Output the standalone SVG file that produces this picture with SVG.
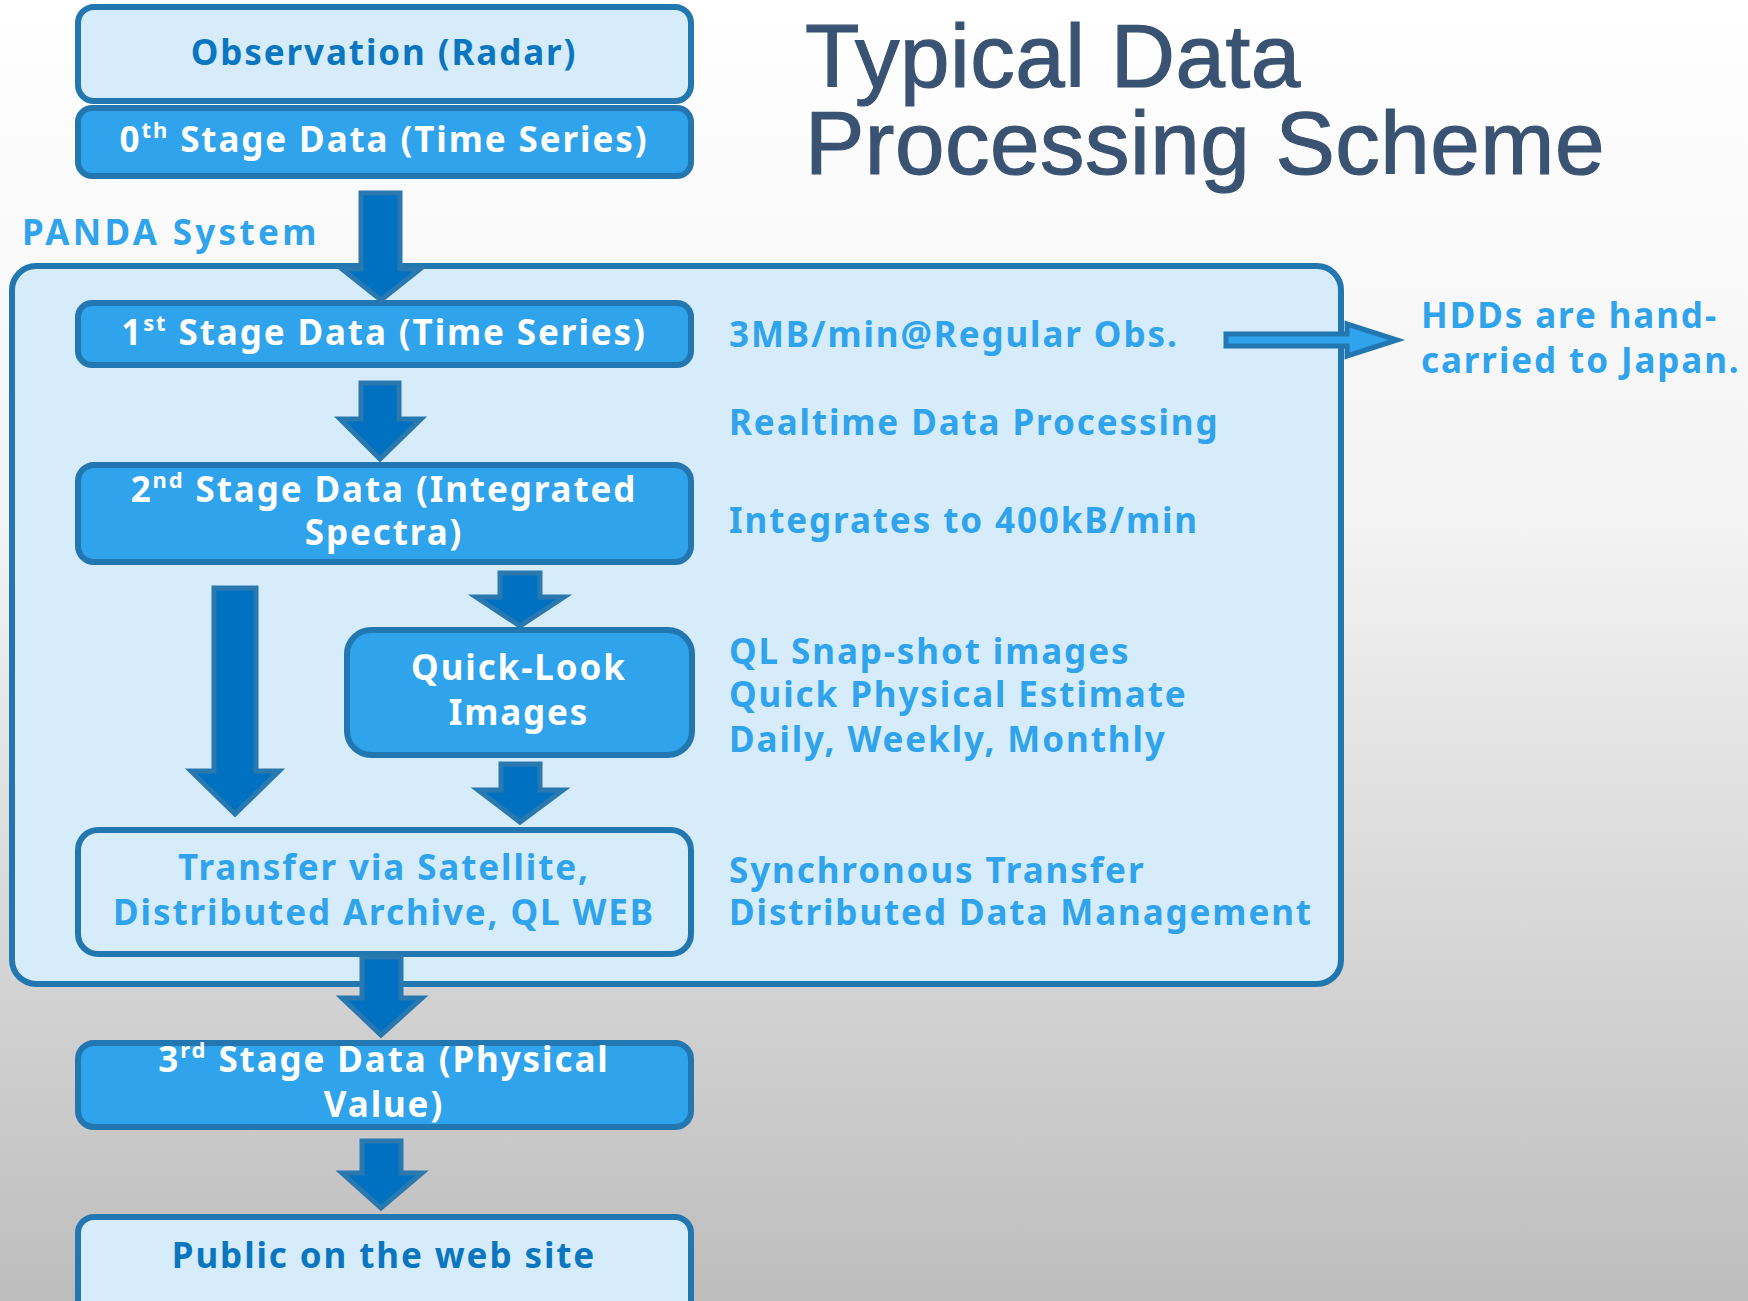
<svg xmlns="http://www.w3.org/2000/svg" width="1748" height="1301" viewBox="0 0 1748 1301">
<defs>
<linearGradient id="bg" x1="0" y1="0" x2="0" y2="1">
<stop offset="0" stop-color="#ffffff"/>
<stop offset="0.4" stop-color="#f3f3f3"/>
<stop offset="1" stop-color="#bdbdbd"/>
</linearGradient>
</defs>
<style>
.t{font-family:"Noto Sans","DejaVu Sans",sans-serif;font-weight:700;font-size:35px;letter-spacing:1.9px}
.c{text-anchor:middle}
.dark{fill:#2fa3eb;stroke:#2277b0;stroke-width:6}
.light{fill:#d6ecfb;stroke:#2277b0;stroke-width:6}
.w{fill:#ffffff}
.db{fill:#0b76c0}
.lb{fill:#2fa3eb}
.arr{fill:#0070c0;stroke:#2a78b0;stroke-width:5;stroke-linejoin:miter}
.title{font-family:"Liberation Sans",Arial,sans-serif;font-size:89px;fill:#3a5373;stroke:#3a5373;stroke-width:1.2;letter-spacing:0.5px}
</style>
<rect width="1748" height="1301" fill="url(#bg)"/>
<g id="title">
<text class="title" x="805" y="87">Typical Data</text>
<text class="title" x="805" y="174">Processing Scheme</text>
</g>
<g id="panda">
<rect x="12" y="266" width="1329" height="718" rx="24" fill="#d6ecfb" stroke="#2277b0" stroke-width="6"/>
<text class="t lb" x="22" y="245" style="letter-spacing:3.3px">PANDA System</text>
</g>
<g id="observation">
<rect class="light" x="78" y="7" width="613" height="94" rx="16"/>
<text class="t c db" x="384" y="65">Observation (Radar)</text>
</g>
<g id="stage0">
<rect class="dark" x="78" y="108" width="613" height="68" rx="14"/>
<text class="t c w" x="384" y="152">0<tspan font-size="22" dy="-14">th</tspan><tspan dy="14"> Stage Data (Time Series)</tspan></text>
</g>
<g id="stage1">
<rect class="dark" x="78" y="303" width="613" height="62" rx="14"/>
<text class="t c w" x="384" y="345">1<tspan font-size="22" dy="-14">st</tspan><tspan dy="14"> Stage Data (Time Series)</tspan></text>
</g>
<g id="stage2">
<rect class="dark" x="78" y="465" width="613" height="97" rx="16"/>
<text class="t c w" x="384" y="502">2<tspan font-size="22" dy="-14">nd</tspan><tspan dy="14"> Stage Data (Integrated</tspan></text>
<text class="t c w" x="384" y="545">Spectra)</text>
</g>
<g id="quicklook">
<rect class="dark" x="347" y="630" width="345" height="125" rx="24"/>
<text class="t c w" x="519" y="680">Quick-Look</text>
<text class="t c w" x="519" y="725">Images</text>
</g>
<g id="transfer">
<rect class="light" x="78" y="830" width="613" height="124" rx="20"/>
<text class="t c lb" x="384" y="880">Transfer via Satellite,</text>
<text class="t c lb" x="384" y="925">Distributed Archive, QL WEB</text>
</g>
<g id="stage3">
<rect class="dark" x="78" y="1043" width="613" height="84" rx="16"/>
<text class="t c w" x="384" y="1072">3<tspan font-size="22" dy="-14">rd</tspan><tspan dy="14"> Stage Data (Physical</tspan></text>
<text class="t c w" x="384" y="1117">Value)</text>
</g>
<g id="public">
<rect class="light" x="78" y="1217" width="613" height="110" rx="16"/>
<text class="t c db" x="384" y="1268">Public on the web site</text>
</g>
<g id="notes">
<text class="t lb" x="729" y="347">3MB/min@Regular Obs.</text>
<text class="t lb" x="729" y="435">Realtime Data Processing</text>
<text class="t lb" x="729" y="533">Integrates to 400kB/min</text>
<text class="t lb" x="729" y="664">QL Snap-shot images</text>
<text class="t lb" x="729" y="707">Quick Physical Estimate</text>
<text class="t lb" x="729" y="752">Daily, Weekly, Monthly</text>
<text class="t lb" x="729" y="883">Synchronous Transfer</text>
<text class="t lb" x="729" y="925">Distributed Data Management</text>
</g>
<g id="hdd">
<text class="t lb" x="1421" y="328">HDDs are hand-</text>
<text class="t lb" x="1421" y="373">carried to Japan.</text>
</g>
<g id="connectors">
<path class="arr" d="M361,193 H400 V269 H420 L381,300 L342,269 H361 Z"/>
<path class="arr" d="M361,383 H399 V419 H421 L380,459 L340,419 H361 Z"/>
<path class="arr" d="M214,588 H256 V771 H279 L235,814 L191,771 H214 Z"/>
<path class="arr" d="M500,573 H540 V597 H564 L520,626 L476,597 H500 Z"/>
<path class="arr" d="M501,764 H540 V790 H563 L520,822 L478,790 H501 Z"/>
<path class="arr" d="M362,957 H401 V998 H422 L381,1035 L342,998 H362 Z"/>
<path class="arr" d="M362,1141 H401 V1173 H422 L381,1208 L342,1173 H362 Z"/>
<path d="M1226,334 H1347 V324 L1397,340 L1347,356 V346 H1226 Z" fill="#2fa3eb" stroke="#2277b0" stroke-width="5" stroke-linejoin="miter"/>
</g>
</svg>
